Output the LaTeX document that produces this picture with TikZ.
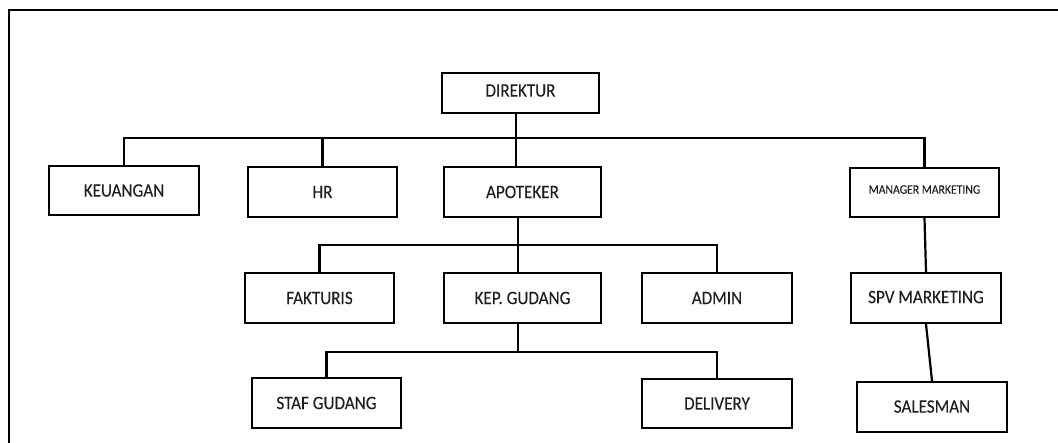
\documentclass[tikz,border=0pt]{standalone}
\usepackage{fontspec}
\setmainfont{Carlito}
\newfontfamily\labfont[FakeStretch=0.9,FakeBold=0.12]{Carlito}
\begin{document}
\begin{tikzpicture}[x=1pt,y=-1pt,
  box/.style={draw=black,line width=2.2pt,rectangle,inner sep=0pt,font=\labfont\fontsize{19}{22}\selectfont,text=black!88},
  conn/.style={draw=black,line width=2.2pt},
  frame/.style={draw=black,line width=1.4pt}]
\useasboundingbox (0,0) rectangle (1058,443);
\draw[frame] (9,450) -- (9,10) -- (1065,10);
\node[box,minimum width=157pt,minimum height=40pt] (dir) at (520.5,93) {\raisebox{5pt}{DIREKTUR}};
\node[box,minimum width=150pt,minimum height=49pt] (keu) at (124,190.5) {KEUANGAN};
\node[box,minimum width=149pt,minimum height=50pt] (hr) at (322.5,192) {HR};
\node[box,minimum width=157pt,minimum height=50pt] (apo) at (522.5,192) {APOTEKER};
\node[box,minimum width=149pt,minimum height=49pt,font=\labfont\fontsize{13}{15}\selectfont] (mm) at (924.5,192.5) {\raisebox{6pt}{MANAGER MARKETING}};
\node[box,minimum width=149pt,minimum height=50pt] (fak) at (319.5,298) {FAKTURIS};
\node[box,minimum width=157pt,minimum height=50pt] (kep) at (522.5,298) {KEP. GUDANG};
\node[box,minimum width=150pt,minimum height=50pt] (adm) at (717,298) {ADMIN};
\node[box,minimum width=150pt,minimum height=50pt] (spv) at (926,298) {\raisebox{2pt}{SPV MARKETING}};
\node[box,minimum width=149pt,minimum height=50pt] (staf) at (326.5,403) {STAF GUDANG};
\node[box,minimum width=150pt,minimum height=49pt] (del) at (717,403.5) {DELIVERY};
\node[box,minimum width=150pt,minimum height=50pt] (sal) at (932,407) {\raisebox{1pt}{SALESMAN}};
\coordinate (b1) at (516,138);
\coordinate (b2) at (518,245);
\coordinate (b3) at (518,352);
\draw[conn] (dir.south -| b1) -- (b1 |- apo.north);
\draw[conn] (keu.north) |- (b1) -| (mm.north);
\draw[conn] (hr.north) -- (hr.north |- b1);
\draw[conn] (apo.south -| b2) -- (b2 |- kep.north);
\draw[conn] (fak.north) |- (b2) -| (adm.north);
\draw[conn] (kep.south -| b3) -- (b3);
\draw[conn] (staf.north) |- (b3) -| (del.north);
\draw[conn] (mm.south) -- (spv.north);
\draw[conn] (spv.south) -- (sal.north);
\end{tikzpicture}
\end{document}
